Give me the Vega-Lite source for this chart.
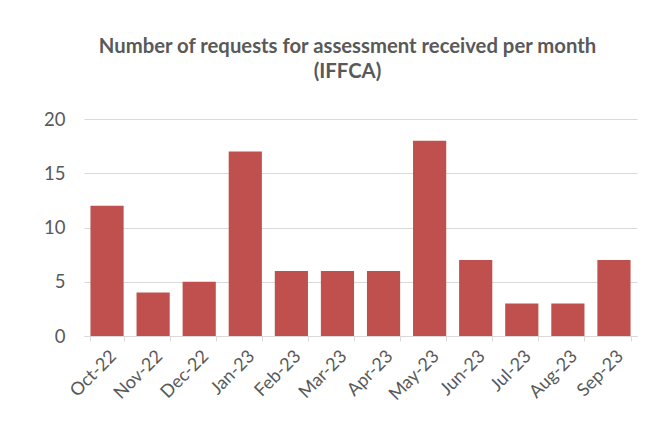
{
  "$schema": "https://vega.github.io/schema/vega-lite/v6.json",
  "autosize": {"type": "none"},
  "width": 553,
  "height": 217,
  "padding": {"left": 84, "top": 119, "right": 34, "bottom": 105},
  "background": "white",
  "title": {
    "text": ["Number of requests for assessment received per month", "(IFFCA)"],
    "font": "Lato",
    "fontSize": 20.3,
    "fontWeight": "bold",
    "color": "#595959",
    "lineHeight": 25,
    "offset": 28,
    "dx": -13,
    "anchor": "middle"
  },
  "data": {
    "values": [
      {"month": "Oct-22", "count": 12},
      {"month": "Nov-22", "count": 4},
      {"month": "Dec-22", "count": 5},
      {"month": "Jan-23", "count": 17},
      {"month": "Feb-23", "count": 6},
      {"month": "Mar-23", "count": 6},
      {"month": "Apr-23", "count": 6},
      {"month": "May-23", "count": 18},
      {"month": "Jun-23", "count": 7},
      {"month": "Jul-23", "count": 3},
      {"month": "Aug-23", "count": 3},
      {"month": "Sep-23", "count": 7}
    ]
  },
  "mark": {"type": "bar", "color": "#C0504D"},
  "encoding": {
    "x": {
      "field": "month",
      "type": "nominal",
      "sort": null,
      "scale": {"paddingInner": 0.28, "paddingOuter": 0.14},
      "axis": {
        "title": null,
        "labelAngle": -45,
        "labelFont": "Lato",
        "labelFontSize": 18,
        "labelColor": "#595959",
        "labelPadding": 6,
        "domainColor": "#D9D9D9",
        "domainWidth": 1,
        "tickColor": "#D9D9D9",
        "tickSize": 5,
        "tickBand": "extent"
      }
    },
    "y": {
      "field": "count",
      "type": "quantitative",
      "scale": {"domain": [0, 20]},
      "axis": {
        "title": null,
        "values": [0, 5, 10, 15, 20],
        "domain": false,
        "ticks": false,
        "labelFont": "Lato",
        "labelFontSize": 18.5,
        "labelColor": "#595959",
        "labelPadding": 19,
        "gridColor": "#D9D9D9",
        "gridWidth": 1
      }
    }
  },
  "config": {"view": {"stroke": null}}
}
